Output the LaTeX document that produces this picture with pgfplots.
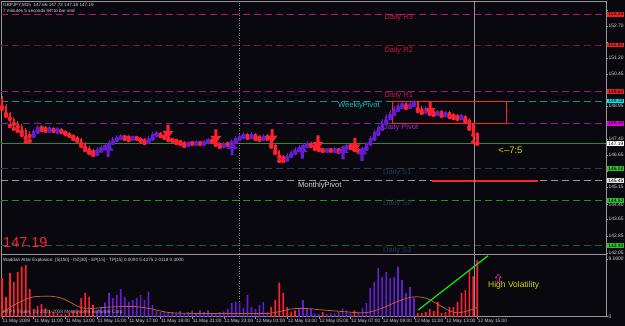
\documentclass[border=0pt]{standalone}
\usepackage{fontspec}
\setmainfont{Liberation Sans}
\usepackage{pgfplots}
\pgfplotsset{compat=1.18}
\usepackage{pgfplotstable}

\definecolor{bg}{RGB}{8,8,14}
\definecolor{frame}{RGB}{150,150,150}
\definecolor{bear}{RGB}{255,32,48}
\definecolor{bull}{RGB}{100,30,205}
\definecolor{lvRthree}{RGB}{185,20,105}
\definecolor{lvRtwo}{RGB}{125,20,45}
\definecolor{lvRone}{RGB}{150,25,125}
\definecolor{lvW}{RGB}{25,140,140}
\definecolor{lvP}{RGB}{135,30,150}
\definecolor{lvSone}{RGB}{40,62,78}
\definecolor{lvM}{RGB}{150,150,150}
\definecolor{lvStwo}{RGB}{30,150,30}
\definecolor{lvSthree}{RGB}{25,100,40}
\definecolor{bidgreen}{RGB}{50,140,30}
\definecolor{txtR}{RGB}{200,25,70}
\definecolor{txtS}{RGB}{30,55,95}
\definecolor{txtW}{RGB}{20,195,195}
\definecolor{txtP}{RGB}{170,40,210}
\definecolor{lbl}{RGB}{215,215,215}
\definecolor{boxred}{RGB}{235,35,35}
\definecolor{boxcyan}{RGB}{0,235,235}
\definecolor{boxmag}{RGB}{225,0,225}
\definecolor{boxgreen}{RGB}{45,190,45}
\definecolor{expl}{RGB}{190,95,55}
\definecolor{limegreen}{RGB}{20,220,20}
\definecolor{yel}{RGB}{215,215,0}
\definecolor{pinkarrow}{RGB}{220,40,150}

\pgfdeclareplotmark{dnarrow}{%
  \pgfpathmoveto{\pgfpoint{-1.6pt}{7pt}}%
  \pgfpathlineto{\pgfpoint{1.6pt}{7pt}}%
  \pgfpathlineto{\pgfpoint{1.6pt}{0.5pt}}%
  \pgfpathlineto{\pgfpoint{5.5pt}{0.5pt}}%
  \pgfpathlineto{\pgfpoint{0pt}{-7pt}}%
  \pgfpathlineto{\pgfpoint{-5.5pt}{0.5pt}}%
  \pgfpathlineto{\pgfpoint{-1.6pt}{0.5pt}}%
  \pgfpathclose
  \pgfusepathqfill}
\pgfdeclareplotmark{uparrow}{%
  \pgfpathmoveto{\pgfpoint{-1.6pt}{-7pt}}%
  \pgfpathlineto{\pgfpoint{1.6pt}{-7pt}}%
  \pgfpathlineto{\pgfpoint{1.6pt}{-0.5pt}}%
  \pgfpathlineto{\pgfpoint{5.5pt}{-0.5pt}}%
  \pgfpathlineto{\pgfpoint{0pt}{7pt}}%
  \pgfpathlineto{\pgfpoint{-5.5pt}{-0.5pt}}%
  \pgfpathlineto{\pgfpoint{-1.6pt}{-0.5pt}}%
  \pgfpathclose
  \pgfusepathqfill}
\pgfdeclareplotmark{hollowup}{%
  \pgfpathmoveto{\pgfpoint{0pt}{4pt}}%
  \pgfpathlineto{\pgfpoint{3pt}{0.5pt}}%
  \pgfpathlineto{\pgfpoint{1.2pt}{0.5pt}}%
  \pgfpathlineto{\pgfpoint{1.2pt}{-4pt}}%
  \pgfpathlineto{\pgfpoint{-1.2pt}{-4pt}}%
  \pgfpathlineto{\pgfpoint{-1.2pt}{0.5pt}}%
  \pgfpathlineto{\pgfpoint{-3pt}{0.5pt}}%
  \pgfpathclose
  \pgfusepathqstroke}

% bearish candles: index, open, high, low, close
\pgfplotstableread{
i o h l c
0 149.32 149.42 148.81 148.90
1 148.95 149.04 148.48 148.57
2 148.62 148.67 148.01 148.34
3 148.34 148.43 147.87 148.10
4 148.15 148.24 147.78 147.96
5 148.01 148.10 147.59 147.73
6 147.82 147.92 147.26 147.45
7 147.63 147.78 147.31 147.54
10 147.96 148.06 147.82 147.92
11 147.92 148.01 147.78 147.87
13 147.92 147.96 147.78 147.82
15 147.87 147.92 147.73 147.78
16 147.78 147.82 147.63 147.68
17 147.68 147.73 147.54 147.59
18 147.59 147.63 147.40 147.49
19 147.49 147.54 147.31 147.40
20 147.40 147.45 147.07 147.17
21 147.17 147.26 146.88 146.98
22 146.98 147.07 146.74 146.84
23 146.84 146.93 146.65 146.79
31 147.54 147.59 147.40 147.49
32 147.49 147.59 147.35 147.45
34 147.49 147.54 147.40 147.45
35 147.45 147.49 147.31 147.35
36 147.35 147.45 147.21 147.31
40 147.68 147.73 147.54 147.59
41 147.59 147.63 147.45 147.49
42 147.49 147.54 147.35 147.40
43 147.40 147.45 147.31 147.35
44 147.35 147.40 147.21 147.31
45 147.31 147.35 147.17 147.26
46 147.26 147.31 147.07 147.17
48 147.26 147.31 147.17 147.21
50 147.26 147.31 147.17 147.21
53 147.40 147.45 147.26 147.31
54 147.31 147.35 147.12 147.21
55 147.21 147.26 147.03 147.12
57 147.21 147.26 147.12 147.17
62 147.63 147.68 147.45 147.54
64 147.63 147.68 147.40 147.49
65 147.49 147.59 147.35 147.45
67 147.54 147.63 147.40 147.49
68 147.45 147.49 147.03 147.12
69 147.12 147.17 146.74 146.84
70 146.84 146.88 146.37 146.56
71 146.56 146.65 146.37 146.51
78 147.21 147.26 147.07 147.12
79 147.12 147.17 146.93 147.03
80 147.03 147.07 146.88 146.93
81 146.93 146.98 146.84 146.88
83 146.93 146.98 146.84 146.88
85 146.93 146.98 146.79 146.88
88 147.12 147.17 146.98 147.07
89 147.07 147.12 146.88 146.93
90 146.93 146.98 146.79 146.84
102 149.09 149.14 148.85 148.95
105 149.14 149.18 148.71 148.81
106 148.85 148.95 148.62 148.71
108 148.85 148.90 148.57 148.67
109 148.67 148.76 148.53 148.62
111 148.71 148.76 148.48 148.57
113 148.67 148.71 148.43 148.53
114 148.53 148.62 148.38 148.48
115 148.48 148.57 148.34 148.43
117 148.48 148.53 148.20 148.29
118 148.29 148.38 147.87 147.96
119 148.10 148.15 147.26 147.59
120 147.66 147.72 147.18 147.19
}\bearT

% bullish candles
\pgfplotstableread{
i o h l c
8 147.59 147.87 147.54 147.78
9 147.78 148.06 147.73 147.96
12 147.87 148.01 147.78 147.92
14 147.82 147.96 147.73 147.87
24 146.79 147.03 146.70 146.93
25 146.93 147.12 146.84 147.03
26 147.03 147.21 146.98 147.12
27 147.12 147.35 147.07 147.26
28 147.26 147.49 147.21 147.40
29 147.40 147.59 147.35 147.49
30 147.49 147.63 147.45 147.54
33 147.45 147.54 147.40 147.49
37 147.31 147.54 147.26 147.45
38 147.45 147.73 147.40 147.63
39 147.63 147.78 147.59 147.68
47 147.17 147.31 147.12 147.26
49 147.21 147.35 147.17 147.26
51 147.21 147.35 147.17 147.31
52 147.31 147.45 147.26 147.40
56 147.12 147.26 147.07 147.21
58 147.17 147.40 147.12 147.31
59 147.31 147.54 147.26 147.45
60 147.45 147.63 147.40 147.54
61 147.54 147.73 147.49 147.63
63 147.54 147.73 147.49 147.63
66 147.45 147.63 147.40 147.54
72 146.51 146.74 146.42 146.65
73 146.65 146.88 146.60 146.79
74 146.79 147.03 146.74 146.93
75 146.93 147.12 146.88 147.03
76 147.03 147.21 146.98 147.12
77 147.12 147.31 147.07 147.21
82 146.88 146.98 146.84 146.93
84 146.88 147.03 146.84 146.93
86 146.88 147.07 146.84 147.03
87 147.03 147.17 146.98 147.12
91 146.84 147.03 146.79 146.98
92 146.98 147.26 146.93 147.21
93 147.21 147.54 147.17 147.45
94 147.45 147.82 147.40 147.73
95 147.73 148.06 147.63 147.96
96 147.96 148.34 147.87 148.24
97 148.24 148.57 148.15 148.48
98 148.48 148.76 148.38 148.67
99 148.67 148.95 148.57 148.85
100 148.85 149.09 148.76 148.99
101 148.99 149.18 148.90 149.09
103 148.95 149.18 148.90 149.09
104 149.09 149.23 148.99 149.14
107 148.71 148.95 148.67 148.85
110 148.62 148.76 148.57 148.71
112 148.57 148.71 148.53 148.67
116 148.43 148.57 148.38 148.53
}\bullT

% Waddah Attar histogram
\pgfplotstableread{
i v
0 6.0
1 3.1
2 6.8
3 5.4
4 7.0
5 7.8
6 8.1
7 4.3
8 1.2
9 1.7
10 2.0
11 1.3
12 1.0
13 0.7
14 0.5
15 0.4
16 0.4
17 0.6
18 1.0
19 1.0
20 2.9
21 3.7
22 3.1
23 1.8
68 1.5
69 2.6
70 5.3
71 3.7
72 1.5
73 0.8
74 1.0
81 0.7
89 1.0
105 0.6
106 0.6
107 0.7
108 1.2
109 0.9
110 2.3
111 0.6
112 0.7
113 1.5
114 1.5
115 2.3
116 3.7
117 4.2
118 7.3
119 6.3
120 8.8
}\histred

\pgfplotstableread{
i v
24 1.0
25 1.5
26 2.2
27 3.7
28 2.9
29 3.4
30 4.3
31 3.1
32 2.3
33 2.6
34 2.9
35 3.4
36 2.6
37 3.9
38 1.8
39 0.9
40 0.7
41 0.8
42 0.6
43 0.7
44 0.6
45 0.9
46 0.5
47 0.7
48 1.0
49 0.6
50 1.0
51 0.7
52 1.0
53 0.6
54 0.5
55 0.7
56 0.8
57 1.2
58 2.1
59 2.3
60 2.1
61 1.4
62 3.4
63 1.5
64 1.2
65 1.8
66 2.3
67 0.7
75 1.2
76 2.6
77 1.3
78 1.3
79 0.5
80 0.4
82 0.4
83 0.5
84 0.5
85 0.7
86 1.3
87 1.0
88 0.6
90 0.8
91 1.3
92 2.1
93 4.5
94 5.4
95 7.6
96 6.2
97 7.0
98 6.0
99 6.2
100 7.8
101 5.7
102 3.7
103 4.6
104 2.9
}\histbull

\begin{document}
\begin{tikzpicture}
\useasboundingbox[fill=bg] (0,0) rectangle (625pt,326pt);

% ---------------- main price panel ----------------
\begin{axis}[
  at={(1pt,72pt)}, anchor=south west, scale only axis,
  width=605pt, height=252.5pt,
  xmin=-0.25, xmax=152.5, ymin=142.006, ymax=153.849,
  clip=false,
  axis line style={draw=frame, line width=0.7pt},
  xtick=\empty,
  ytick={142.05,142.85,143.65,144.33,145.15,145.90,146.65,147.40,148.15,148.95,149.70,150.45,151.20,151.95,152.70,153.45},
  yticklabels={142.05,142.85,143.65,144.40,145.15,{},146.65,147.40,{},148.95,{},150.45,151.20,{},152.70,{}},
  ytick pos=right, yticklabel pos=right,
  tick align=outside, major tick length=2pt,
  tick style={draw=frame, line width=0.5pt},
  yticklabel style={font=\fontsize{4.9}{5}\selectfont, text=lbl, inner sep=0.5pt},
]
% pivot levels
\addplot[lvRthree, line width=0.8pt, dash pattern=on 7pt off 4pt] coordinates {(-0.25,153.25) (152.5,153.25)};
\addplot[lvRtwo, line width=0.8pt, dash pattern=on 7pt off 4pt] coordinates {(-0.25,151.81) (152.5,151.81)};
\addplot[lvRone, line width=0.8pt, dash pattern=on 7pt off 4pt] coordinates {(-0.25,149.62) (152.5,149.62)};
\addplot[lvW, line width=0.8pt, dash pattern=on 7pt off 4pt] coordinates {(-0.25,149.18) (152.5,149.18)};
\addplot[lvP, line width=0.8pt, dash pattern=on 7pt off 4pt] coordinates {(-0.25,148.14) (152.5,148.14)};
\addplot[lvSone, line width=0.8pt, dash pattern=on 7pt off 4pt] coordinates {(-0.25,146.02) (152.5,146.02)};
\addplot[lvM, line width=0.8pt, dash pattern=on 7pt off 4pt] coordinates {(-0.25,145.45) (152.5,145.45)};
\addplot[lvStwo, line width=0.8pt, dash pattern=on 7pt off 4pt] coordinates {(-0.25,144.52) (152.5,144.52)};
\addplot[lvSthree, line width=0.8pt, dash pattern=on 7pt off 4pt] coordinates {(-0.25,142.40) (152.5,142.40)};
\addplot[bidgreen, line width=0.8pt] coordinates {(-0.25,147.19) (152.5,147.19)};
\addplot[bear, line width=1.6pt] coordinates {(108.6,145.43) (135.4,145.43)};
% separators
\addplot[frame, line width=0.5pt, dash pattern=on 1pt off 1.5pt] coordinates {(60,142.006) (60,153.849)};
\addplot[frame, line width=0.6pt] coordinates {(119.3,142.006) (119.3,153.849)};

% candles: wicks and bodies
\addplot[bear, only marks, mark=none, error bars/.cd, y dir=plus, y explicit, error mark=none,
  error bar style={line width=0.8pt}]
  table[x=i, y=l, y error expr=\thisrow{h}-\thisrow{l}] {\bearT};
\addplot[bear, only marks, mark=none, error bars/.cd, y dir=plus, y explicit, error mark=none,
  error bar style={line width=2.5pt}]
  table[x=i, y=c, y error expr=\thisrow{o}-\thisrow{c}] {\bearT};
\addplot[bull, only marks, mark=none, error bars/.cd, y dir=plus, y explicit, error mark=none,
  error bar style={line width=0.8pt}]
  table[x=i, y=l, y error expr=\thisrow{h}-\thisrow{l}] {\bullT};
\addplot[bull, only marks, mark=none, error bars/.cd, y dir=plus, y explicit, error mark=none,
  error bar style={line width=2.5pt}]
  table[x=i, y=o, y error expr=\thisrow{c}-\thisrow{o}] {\bullT};

% signal arrows
\addplot[only marks, mark=dnarrow, color=bear, mark options={fill=bear}] coordinates {
  (41.9,147.75) (54.0,147.52) (68.2,147.54) (79.8,147.24) (89.1,147.12) (108.1,148.83)};
\addplot[only marks, mark=uparrow, color=bull, mark options={fill=bull}] coordinates {
  (26.8,146.88) (58.1,146.955) (75.8,146.81) (86.1,146.77) (90.9,146.70)};

% box
\addplot[bear, line width=1pt] coordinates {(98.5,149.18) (127.5,149.18) (127.5,148.15) (98.5,148.15) (98.5,149.18)};

% level texts
\node[anchor=west, inner sep=0, text=txtR, font=\fontsize{7.6}{8}\selectfont] at (axis cs:96.5,153.08) {Daily R3};
\node[anchor=west, inner sep=0, text=txtR, font=\fontsize{7.6}{8}\selectfont] at (axis cs:96.5,151.57) {Daily R2};
\node[anchor=west, inner sep=0, text=txtR, font=\fontsize{7.6}{8}\selectfont] at (axis cs:96.5,149.42) {Daily R1};
\node[anchor=west, inner sep=0, text=txtW, font=\fontsize{7.6}{8}\selectfont] at (axis cs:84.8,148.99) {WeeklyPivot};
\node[anchor=west, inner sep=0, text=txtP, font=\fontsize{7.6}{8}\selectfont] at (axis cs:96.0,147.92) {Daily Pivot};
\node[anchor=west, inner sep=0, text=txtS, font=\fontsize{7.6}{8}\selectfont] at (axis cs:96.2,145.81) {Daily S1};
\node[anchor=west, inner sep=0, text=lbl, font=\fontsize{7.6}{8}\selectfont] at (axis cs:74.7,145.24) {MonthlyPivot};
\node[anchor=west, inner sep=0, text=txtS, font=\fontsize{7.6}{8}\selectfont] at (axis cs:96.2,144.35) {Daily S2};
\node[anchor=west, inner sep=0, text=txtS, font=\fontsize{7.6}{8}\selectfont] at (axis cs:96.2,142.19) {Daily S3};
\node[anchor=west, inner sep=0, text=yel, font=\fontsize{9.5}{10}\selectfont] at (axis cs:125.3,146.88) {<--7:5};

\node[anchor=west, inner sep=0, text=lbl, font=\fontsize{4.6}{5}\selectfont] at (rel axis cs:0.0033,0.986) {GBPJPY,M15\ \ 147.66 147.72 147.18 147.19};
\node[anchor=west, inner sep=0, text=lbl, font=\fontsize{4.6}{5}\selectfont] at (rel axis cs:0.0033,0.964) {7 minutes 5 seconds left to bar end};
\node[anchor=west, inner sep=0, text=bear, font=\fontsize{14.5}{15}\selectfont] at (rel axis cs:0.0033,0.044) {147.19};

% anchors for the price boxes
\coordinate (bRthree) at (axis cs:152.5,153.25);
\coordinate (bRtwo) at (axis cs:152.5,151.81);
\coordinate (bRone) at (axis cs:152.5,149.62);
\coordinate (bW) at (axis cs:152.5,149.18);
\coordinate (bP) at (axis cs:152.5,148.14);
\coordinate (bBid) at (axis cs:152.5,147.19);
\coordinate (bSone) at (axis cs:152.5,146.02);
\coordinate (bM) at (axis cs:152.5,145.45);
\coordinate (bStwo) at (axis cs:152.5,144.52);
\coordinate (bSthree) at (axis cs:152.5,142.40);
\end{axis}

\tikzset{pbox/.style={anchor=west, xshift=1pt, inner xsep=1.1pt, inner ysep=0.7pt, text=black, font=\fontsize{4.9}{5}\selectfont}}
\node[pbox, fill=boxred] at (bRthree) {153.25};
\node[pbox, fill=boxred] at (bRtwo) {151.81};
\node[pbox, fill=boxred] at (bRone) {149.62};
\node[pbox, fill=boxcyan] at (bW) {149.18};
\node[pbox, fill=boxmag] at (bP) {148.14};
\node[pbox, fill=white] at (bBid) {147.19};
\node[pbox, fill=boxgreen] at (bSone) {146.02};
\node[pbox, fill=white!90!black] at (bM) {145.45};
\node[pbox, fill=boxgreen] at (bStwo) {144.52};
\node[pbox, fill=boxgreen] at (bSthree) {142.40};

% ---------------- indicator panel ----------------
\begin{axis}[
  at={(1pt,9.3pt)}, anchor=south west, scale only axis,
  width=605pt, height=62.2pt,
  xmin=-0.25, xmax=152.5, ymin=0, ymax=9.70,
  clip=false,
  axis line style={draw=frame, line width=0.8pt},
  xtick={0,8,...,120},
  xticklabels={11 May 2009,11 May 11:00,11 May 13:00,11 May 15:00,11 May 17:00,11 May 19:00,11 May 21:00,11 May 23:00,12 May 01:00,12 May 03:00,12 May 05:00,12 May 07:00,12 May 09:00,12 May 11:00,12 May 13:00,12 May 15:00},
  xtick pos=bottom, xticklabel pos=bottom,
  xticklabel style={anchor=north west, inner sep=0.5pt, font=\fontsize{4.8}{5}\selectfont, text=lbl},
  ytick={0,9}, yticklabels={0,9.0000},
  ytick pos=right, yticklabel pos=right,
  yticklabel style={font=\fontsize{4.9}{5}\selectfont, text=lbl, inner sep=0.5pt},
  tick align=outside, major tick length=2pt,
  tick style={draw=frame, line width=0.5pt},
]
\addplot[frame, line width=0.5pt, dash pattern=on 1pt off 1.5pt] coordinates {(60,0) (60,9.70)};
\addplot[frame, line width=0.6pt] coordinates {(119.3,0) (119.3,9.70)};
\addplot[ybar, bar width=1.7pt, bar shift=0pt, fill=bear, draw=none] table[x=i, y=v] {\histred};
\addplot[ybar, bar width=1.7pt, bar shift=0pt, fill=bull, draw=none] table[x=i, y=v] {\histbull};
\addplot[expl, line width=0.8pt, smooth] coordinates {
 (0,0.6) (3,1.8) (6,2.7) (8,3.1) (12,3.2) (15,2.9) (18,2.0) (20,1.4) (23,1.3) (27,1.5)
 (33,1.6) (37,1.3) (40,0.9) (43,0.6) (50,0.5) (60,0.5) (67,0.5) (70,0.8) (73,1.2) (76,1.3)
 (80,1.1) (86,0.8) (91,0.6) (94,0.9) (97,1.6) (100,2.4) (103,3.0) (105,3.1) (107,2.9)
 (109,2.3) (111,1.6) (113,0.9) (115,0.6) (117,0.8) (119,1.2) (120,1.5)};
\addplot[limegreen, line width=1.3pt] coordinates {(105.1,1.05) (122.7,9.5)};
\addplot[only marks, mark=hollowup, color=pinkarrow, mark options={line width=0.6pt}] coordinates {(125.3,6.0)};
\node[anchor=west, inner sep=0, text=yel, font=\fontsize{8.5}{9}\selectfont] at (axis cs:122.7,4.9) {High Volatility};
\node[anchor=west, inner sep=0, text=lbl, font=\fontsize{4.6}{5}\selectfont] at (rel axis cs:0.0033,0.912) {Waddah Attar Explosion: [5|150] - DZ[30] - EP[15] - TP[15] 0.0000 5.4275 2.0118 0.3000};
\node[anchor=west, inner sep=0, text=lbl!80!black, font=\fontsize{4.8}{5}\selectfont] at (rel axis cs:0.0033,0.076) {FTPX Trader, (c) 2001-2008 MetaQuotes Software Corp.};
\end{axis}
\end{tikzpicture}
\end{document}
